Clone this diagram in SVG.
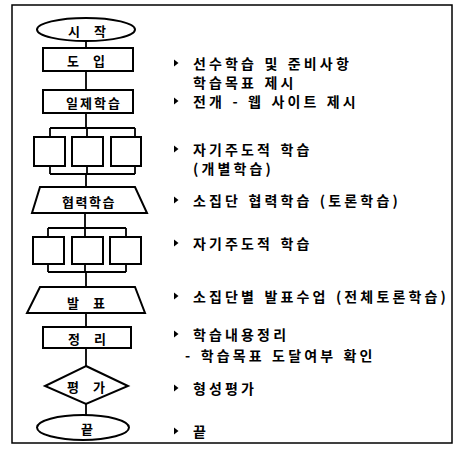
<svg xmlns="http://www.w3.org/2000/svg" width="456" height="457" viewBox="0 0 456 457">
<style>
.s{fill:#fff;stroke:#000;stroke-width:2}
.c{fill:none;stroke:#000;stroke-width:1.8}
.t{font-family:"Noto Sans CJK KR","Noto Sans",sans-serif;font-weight:bold;font-size:13px;fill:#000;text-anchor:middle;dominant-baseline:central;letter-spacing:4px;word-spacing:3px}
.d{font-family:"Noto Sans CJK KR","Noto Sans",sans-serif;font-weight:bold;font-size:14px;fill:#000;letter-spacing:3.15px;word-spacing:1px;dominant-baseline:central}
</style>
<defs>
<path id="b" d="M0,-3.5 L4.5,0 L0,3.5 Z" fill="#000"/>
</defs>
<rect x="12" y="5" width="440" height="438" fill="none" stroke="#000" stroke-width="1.5"/>
<g id="connectors">
<path class="c" d="M86,41 V48 M86,71 V90 M86,113 V128 M50,128 H135 M50,128 V137 M87,128 V137 M135,128 V137"/>
<path class="c" d="M50,166 V174 M87,166 V174 M135,166 V174 M50,174 H135 M86,174 V187"/>
<path class="c" d="M85,213 V228 M48,228 H126 M48,228 V237 M85,228 V237 M126,228 V237"/>
<path class="c" d="M48,264 V272 M85,264 V272 M126,264 V272 M48,272 H126 M86,272 V287"/>
<path class="c" d="M86,313 V327 M86,348 V366 M86,404 V415"/>
</g>
<g id="start"><ellipse class="s" cx="86" cy="29.5" rx="49" ry="11.5"/><text class="t" x="89" y="30">시 작</text></g>
<g id="intro"><rect class="s" x="43" y="48" width="90" height="23"/><text class="t" x="88" y="60">도 입</text></g>
<g id="lecture"><rect class="s" x="43" y="90" width="90" height="23"/><text class="t" x="94" y="102" style="letter-spacing:2px">일제학습</text></g>
<g id="self1">
<rect class="s" x="34" y="137" width="31" height="29"/>
<rect class="s" x="72" y="137" width="31" height="29"/>
<rect class="s" x="111" y="137" width="30" height="29"/>
</g>
<g id="coop"><polygon class="s" points="40,187 135,187 147,213 32,213"/><text class="t" x="89" y="201" style="letter-spacing:1.5px">협력학습</text></g>
<g id="self2">
<rect class="s" x="33" y="237" width="31" height="27"/>
<rect class="s" x="72" y="237" width="31" height="27"/>
<rect class="s" x="110" y="237" width="31" height="27"/>
</g>
<g id="present"><polygon class="s" points="40,287 135,287 145,313 27,313"/><text class="t" x="88" y="302">발 표</text></g>
<g id="summary"><rect class="s" x="43" y="327" width="88" height="21"/><text class="t" x="89" y="338">정 리</text></g>
<g id="eval"><polygon class="s" points="86,366 128,386 86,404 45,386"/><text class="t" x="88" y="386">평 가</text></g>
<g id="end"><ellipse class="s" cx="83" cy="427.5" rx="46" ry="12.5"/><text class="t" x="89" y="428">끝</text></g>
<g id="notes">
<use href="#b" x="174" y="63"/><text class="d" x="193" y="63">선수학습 및 준비사항</text>
<text class="d" x="193" y="82">학습목표 제시</text>
<use href="#b" x="174" y="101"/><text class="d" x="193" y="101">전개 - 웹 사이트 제시</text>
<use href="#b" x="174" y="149"/><text class="d" x="193" y="149">자기주도적 학습</text>
<text class="d" x="193" y="168">(개별학습)</text>
<use href="#b" x="174" y="200"/><text class="d" x="193" y="200">소집단 협력학습 (토론학습)</text>
<use href="#b" x="174" y="243"/><text class="d" x="193" y="243">자기주도적 학습</text>
<use href="#b" x="174" y="296"/><text class="d" x="193" y="296">소집단별 발표수업 (전체토론학습)</text>
<use href="#b" x="174" y="334"/><text class="d" x="193" y="334">학습내용정리</text>
<text class="d" x="185" y="355">- 학습목표 도달여부 확인</text>
<use href="#b" x="174" y="388"/><text class="d" x="193" y="388">형성평가</text>
<use href="#b" x="174" y="431"/><text class="d" x="193" y="431">끝</text>
</g>
</svg>
